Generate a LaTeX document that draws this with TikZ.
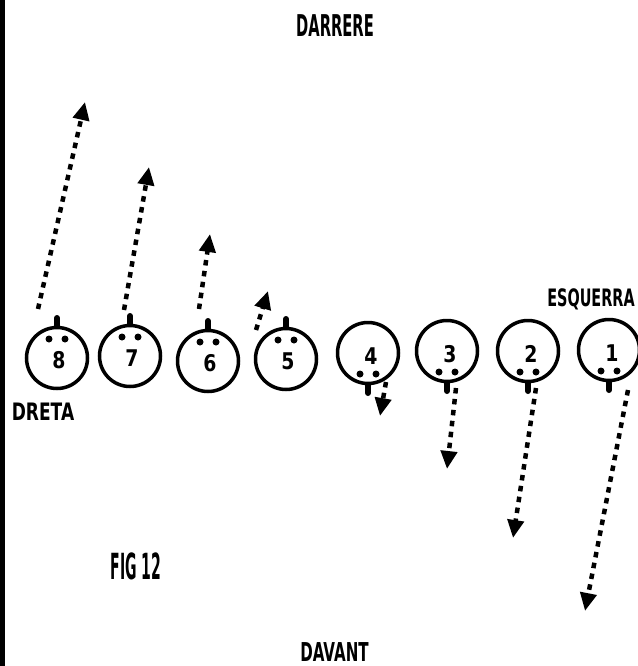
\documentclass[tikz,border=0pt]{standalone}
\usepackage{fontspec}
\setmainfont{DejaVu Sans}
\usetikzlibrary{arrows.meta}
\tikzset{
    head/.style 2 args={font=\bfseries\fontsize{#1}{#1}\selectfont, xscale=#2, transform shape, inner sep=0pt},
    num/.style={font=\bfseries\fontsize{23}{23}\selectfont, xscale=0.82, transform shape, inner sep=0pt},
    pinball/.style={circle, draw, line width=3.5pt, minimum size=61pt, inner sep=0pt},
    pindot/.style={circle, fill, minimum size=7pt, inner sep=0pt},
    dir/.style={line width=4.5pt, dash pattern=on 5.5pt off 5.5pt, -{Triangle[width=16pt,length=18pt]}},
    peg/.style={line width=6pt, line cap=round}
}
\begin{document}
\begin{tikzpicture}[x=1pt, y=-1pt]
    \useasboundingbox (0,0) rectangle (637,666);
    \fill (0,0) rectangle (5,666);

    % Labels
    \node[head={30}{0.49}] (back) at (335,26) {DARRERE};
    \node[head={26}{0.58}] (front) at (334.5,652) {DAVANT};
    \node[head={24}{0.71}] (right) at (43,412) {DRETA};
    \node[head={24}{0.60}] (left) at (591,299) {ESQUERRA};
    \node[head={36}{0.39}] (fig) at (136,566) {FIG 12};

    % Top row
    \foreach \x/\y/\n/\sx/\sy/\ex/\ey in {57/358/8/38/309/85/102, 130/356/7/124/310/149/167, 208/361/6/199/309/210/234, 286/359/5/256/330/268/291} {
        \node[pinball] (c\n) at (\x,\y) {};
        \node[num] (t\n) at (\x+2,\y+2) {\n};
        \node[pindot] (dl\n) at (\x-8,\y-19) {};
        \node[pindot] (dr\n) at (\x+8,\y-19) {};
        \coordinate (p\n) at (\x,\y-40);
        \draw[peg] (c\n.north) -- (p\n);
        \coordinate (s\n) at (\sx,\sy);
        \coordinate (e\n) at (\ex,\ey);
        \draw[dir] (s\n) -- (e\n);
    }

    % Bottom row
    \foreach \x/\y/\n/\sx/\sy/\ex/\ey in {368/353/4/386/382/380/416, 447/351/3/456/388/447/469, 528/351/2/536/388/513/538, 609/350/1/628/390/585/611} {
        \node[pinball] (c\n) at (\x,\y) {};
        \node[num] (t\n) at (\x+3,\y+3) {\n};
        \node[pindot] (dl\n) at (\x-8,\y+21) {};
        \node[pindot] (dr\n) at (\x+8,\y+21) {};
        \coordinate (p\n) at (\x,\y+40);
        \draw[peg] (c\n.south) -- (p\n);
        \coordinate (s\n) at (\sx,\sy);
        \coordinate (e\n) at (\ex,\ey);
        \draw[dir] (s\n) -- (e\n);
    }
\end{tikzpicture}
\end{document}
